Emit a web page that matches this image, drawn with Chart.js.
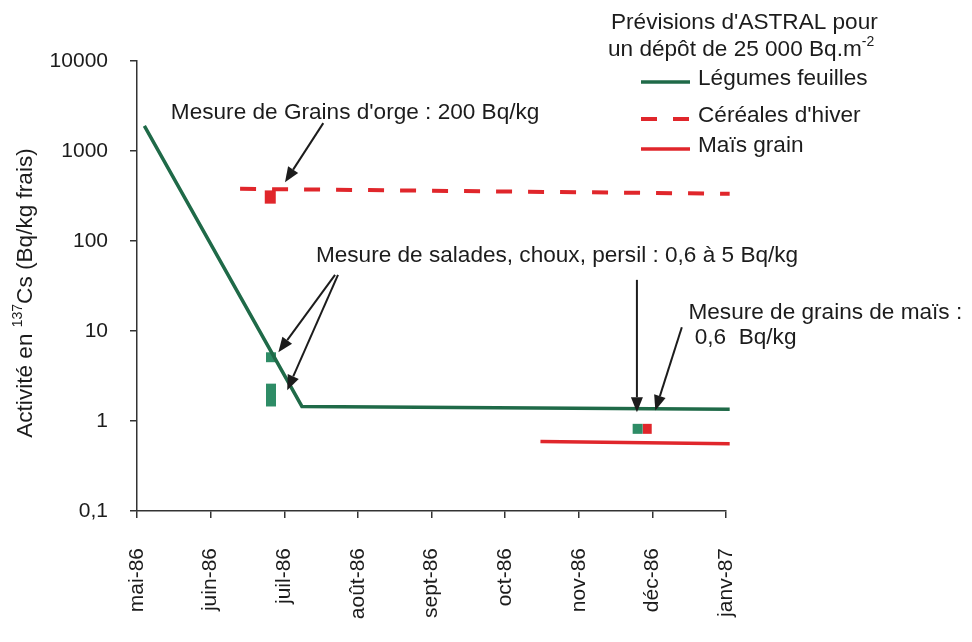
<!DOCTYPE html>
<html lang="fr">
<head>
<meta charset="utf-8">
<title>Activité en 137Cs - prévisions ASTRAL</title>
<script src="https://cdn.jsdelivr.net/npm/chart.js@4.4.1/dist/chart.umd.min.js"></script>
<style>
  html, body { margin: 0; padding: 0; background: #fff; }
  #wrap { width: 972px; height: 642px; position: relative; }
</style>
</head>
<body>
<div id="wrap"><canvas id="chart"></canvas></div>
<script>
// axe x : mois écoulés depuis mai-86
const MONTHS = ['mai-86', 'juin-86', 'juil-86', 'août-86', 'sept-86', 'oct-86', 'nov-86', 'déc-86', 'janv-87'];
const Y_TICKS = [0.1, 1, 10, 100, 1000, 10000];
const Y_TICK_LABELS = ['0,1', '1', '10', '100', '1000', '10000'];

// prévisions ASTRAL
const LEGUMES_X = [0.1, 2.24, 8.05];
const LEGUMES_Y = [1900, 1.45, 1.35];
const CEREALES_X = [1.4, 8.05];
const CEREALES_Y = [380, 335];
const MAIS_X = [5.48, 8.05];
const MAIS_Y = [0.59, 0.56];

// mesures : [mois, bas, haut]
const MES_ORGE = [1.81, 260, 365];
const MES_SALADES = [[1.82, 4.5, 5.8], [1.82, 1.45, 2.6], [6.80, 0.72, 0.93]];
const MES_MAIS = [6.93, 0.72, 0.93];

// textes et flèches (coordonnées données)
const NOTES = [
  { text: "Mesure de Grains d'orge : 200 Bq/kg", x: 0.46, y: 2630 },
  { text: 'Mesure de salades, choux, persil : 0,6 à 5 Bq/kg', x: 2.43, y: 68 },
  { text: 'Mesure de grains de maïs :', x: 7.49, y: 16 },
  { text: ' 0,6  Bq/kg', x: 7.49, y: 8.5 },
];
const ARROWS = [
  { from: [2.53, 2040], to: [2.01, 450] },
  { from: [2.69, 42], to: [1.92, 5.8] },
  { from: [2.73, 42], to: [2.04, 2.2] },
  { from: [6.79, 37], to: [6.79, 1.25] },
  { from: [7.40, 11], to: [7.04, 1.31] },
];

const GREEN = '#1f6a48';
const MARK_GREEN = '#2e8c66';
const RED = '#e0262b';
const TEXT = '#1c1c1c';
const FONT_FAMILY = '"Liberation Sans", Arial, sans-serif';
const FONT = '22.6px ' + FONT_FAMILY;

const pts = (xs, ys) => xs.map((x, i) => ({ x, y: ys[i] }));
const bar = (m, color, width) => ({
  data: [{ x: m[0], y: m[1] }, { x: m[0], y: m[2] }],
  borderColor: color,
  borderWidth: width,
  borderCapStyle: 'butt',
  pointRadius: 0,
  clip: false,
});

const datasets = [
  { label: 'Légumes feuilles', inLegend: true, data: pts(LEGUMES_X, LEGUMES_Y),
    borderColor: GREEN, borderWidth: 3.5, pointRadius: 0, clip: false },
  { label: "Céréales d'hiver", inLegend: true, data: pts(CEREALES_X, CEREALES_Y),
    borderColor: RED, borderWidth: 4, borderDash: [16, 16], pointRadius: 0, clip: false },
  { label: 'Maïs grain', inLegend: true, data: pts(MAIS_X, MAIS_Y),
    borderColor: RED, borderWidth: 3.5, pointRadius: 0, clip: false },
  bar(MES_ORGE, RED, 11),
  ...MES_SALADES.map(m => bar(m, MARK_GREEN, 10)),
  bar(MES_MAIS, RED, 9),
];

function drawArrow(ctx, x1, y1, x2, y2) {
  const a = Math.atan2(y2 - y1, x2 - x1);
  const len = 15, half = 6;
  const bx = x2 - len * Math.cos(a), by = y2 - len * Math.sin(a);
  ctx.beginPath(); ctx.moveTo(x1, y1); ctx.lineTo(bx, by); ctx.stroke();
  ctx.beginPath();
  ctx.moveTo(x2, y2);
  ctx.lineTo(bx + half * Math.sin(a), by - half * Math.cos(a));
  ctx.lineTo(bx - half * Math.sin(a), by + half * Math.cos(a));
  ctx.closePath(); ctx.fill();
}

// texte avec exposants : parts = [[texte, exposant?], ...]
function richWidth(ctx, parts) {
  return parts.reduce((w, p) => {
    ctx.font = p[1] ? '14px ' + FONT_FAMILY : FONT;
    return w + ctx.measureText(p[0]).width;
  }, 0);
}
function drawRich(ctx, parts, x, y) {
  parts.forEach(p => {
    ctx.font = p[1] ? '14px ' + FONT_FAMILY : FONT;
    ctx.fillText(p[0], x, p[1] ? y - 8 : y);
    x += ctx.measureText(p[0]).width;
  });
}

const overlay = {
  id: 'overlay',
  afterDatasetsDraw(chart) {
    const { ctx } = chart;
    const xs = chart.scales.x, ys = chart.scales.y;
    ctx.save();
    ctx.fillStyle = TEXT;
    ctx.strokeStyle = TEXT;
    ctx.lineWidth = 2;
    ctx.font = FONT;
    ctx.textBaseline = 'middle';
    ctx.textAlign = 'left';

    NOTES.forEach(n => ctx.fillText(n.text, xs.getPixelForValue(n.x), ys.getPixelForValue(n.y)));
    ARROWS.forEach(a => drawArrow(ctx,
      xs.getPixelForValue(a.from[0]), ys.getPixelForValue(a.from[1]),
      xs.getPixelForValue(a.to[0]), ys.getPixelForValue(a.to[1])));

    // titre de l'axe y
    const yTitle = [['Activité en '], ['137', true], ['Cs (Bq/kg frais)']];
    ctx.save();
    ctx.translate(26, 293);
    ctx.rotate(-Math.PI / 2);
    drawRich(ctx, yTitle, -richWidth(ctx, yTitle) / 2, 0);
    ctx.restore();

    // légende
    ctx.font = FONT;
    ctx.fillText("Prévisions d'ASTRAL pour", 611, 23);
    drawRich(ctx, [['un dépôt de 25 000 Bq.m'], ['-2', true]], 608, 50);
    const rows = [79, 116, 146];
    chart.data.datasets.filter(d => d.inLegend).forEach((d, i) => {
      ctx.save();
      ctx.strokeStyle = d.borderColor;
      ctx.lineWidth = d.borderWidth;
      ctx.setLineDash(d.borderDash || []);
      ctx.beginPath();
      ctx.moveTo(641, rows[i] + 3);
      ctx.lineTo(690, rows[i] + 3);
      ctx.stroke();
      ctx.restore();
      ctx.font = FONT;
      ctx.fillText(d.label, 698, rows[i]);
    });
    ctx.restore();
  },
};

new Chart(document.getElementById('chart'), {
  type: 'line',
  data: { datasets },
  plugins: [overlay],
  options: {
    responsive: true,
    maintainAspectRatio: false,
    animation: false,
    layout: { padding: { top: 61, right: 246, left: 0, bottom: 0 } },
    plugins: { legend: { display: false }, tooltip: { enabled: false } },
    scales: {
      x: {
        type: 'linear',
        min: 0,
        max: 8,
        afterBuildTicks: s => { s.ticks = MONTHS.map((_, i) => ({ value: i })); },
        afterFit: s => { s.height = 131; },
        ticks: {
          autoSkip: false,
          minRotation: 90,
          maxRotation: 90,
          padding: 30,
          color: TEXT,
          font: { family: FONT_FAMILY, size: 21 },
          callback: (v, i) => MONTHS[i],
        },
        grid: { drawOnChartArea: false, tickLength: 7, color: '#333', lineWidth: 1.5 },
        border: { display: true, color: '#333', width: 1.5 },
      },
      y: {
        type: 'logarithmic',
        min: 0.1,
        max: 10000,
        afterBuildTicks: s => { s.ticks = Y_TICKS.map(v => ({ value: v })); },
        afterFit: s => { s.width = 137; },
        ticks: {
          padding: 22,
          color: TEXT,
          font: { family: FONT_FAMILY, size: 21 },
          callback: (v, i) => Y_TICK_LABELS[i],
        },
        grid: { drawOnChartArea: false, tickLength: 7, color: '#333', lineWidth: 1.5 },
        border: { display: true, color: '#333', width: 1.5 },
      },
    },
  },
});
</script>
</body>
</html>
